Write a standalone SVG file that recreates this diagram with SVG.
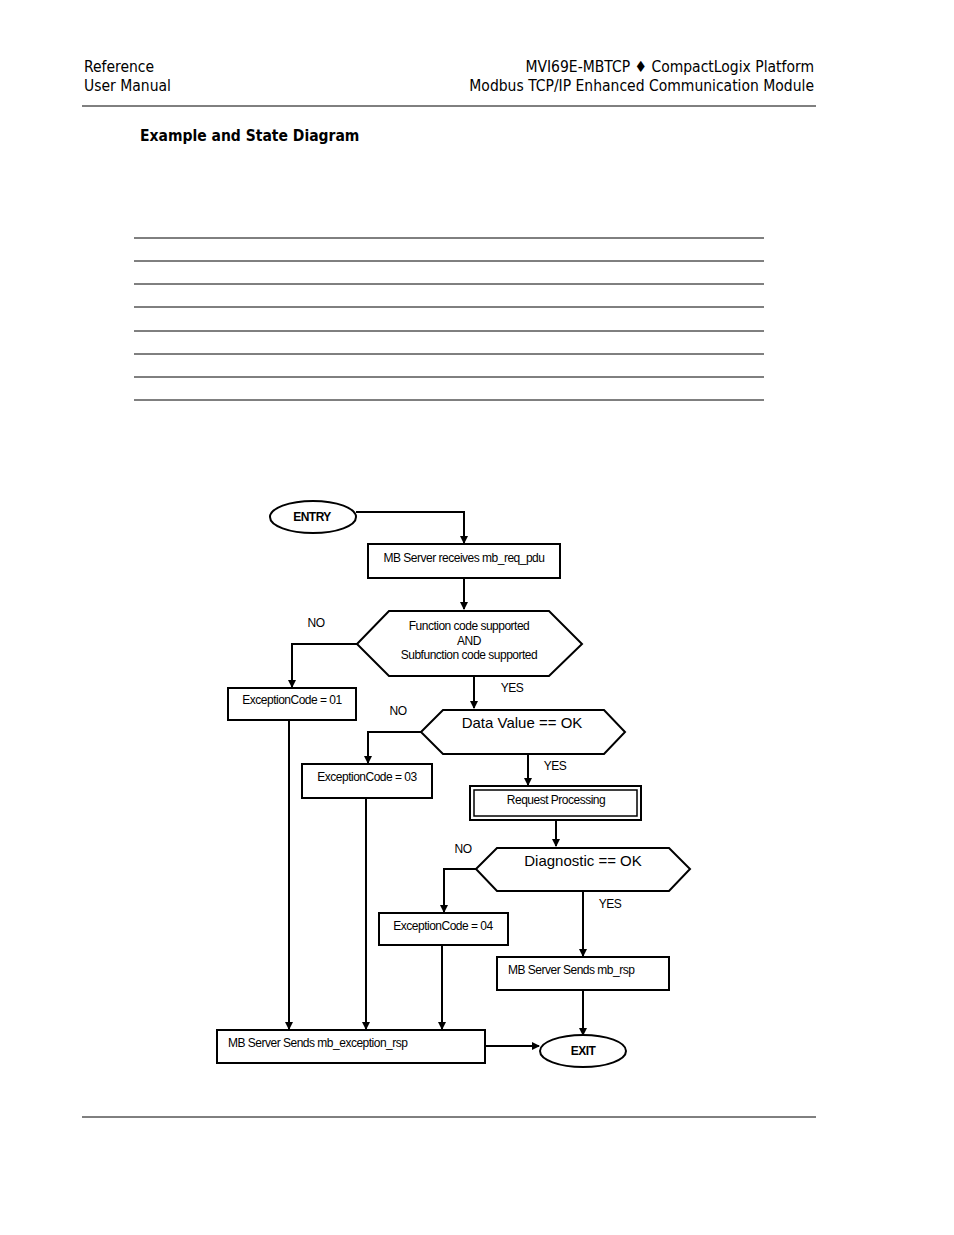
<svg xmlns="http://www.w3.org/2000/svg" width="954" height="1235" viewBox="0 0 954 1235">
<style>
.h{font-family:"Liberation Sans Narrow","DejaVu Sans Condensed","Liberation Sans",sans-serif;font-size:15.5px;fill:#000}
.t{font-family:"Liberation Sans",Arial,sans-serif;font-size:12px;fill:#000;letter-spacing:-0.5px}
.b{font-family:"Liberation Sans",Arial,sans-serif;font-size:15px;fill:#000}
.s{fill:#fff;stroke:#000;stroke-width:2}
.c{fill:none;stroke:#000;stroke-width:2}
.r{stroke:#000;stroke-width:1}
</style>
<defs><marker id="a" markerWidth="8" markerHeight="8" refX="7" refY="4" orient="auto" markerUnits="userSpaceOnUse" viewBox="0 0 8 8"><path d="M0,0 L8,4 L0,8 z" fill="#000"/></marker></defs>
<rect width="954" height="1235" fill="#fff"/>
<text class="h" x="84" y="72">Reference</text>
<text class="h" x="84" y="91">User Manual</text>
<text class="h" x="814" y="72" text-anchor="end">MVI69E-MBTCP ♦ CompactLogix Platform</text>
<text class="h" x="814" y="91" text-anchor="end">Modbus TCP/IP Enhanced Communication Module</text>
<line class="r" x1="82" y1="106" x2="816" y2="106"/>
<text class="h" x="140" y="141" font-weight="bold">Example and State Diagram</text>
<g class="r"><line x1="134" y1="238" x2="764" y2="238"/><line x1="134" y1="261" x2="764" y2="261"/><line x1="134" y1="284" x2="764" y2="284"/><line x1="134" y1="307" x2="764" y2="307"/><line x1="134" y1="331" x2="764" y2="331"/><line x1="134" y1="354" x2="764" y2="354"/><line x1="134" y1="377" x2="764" y2="377"/><line x1="134" y1="400" x2="764" y2="400"/></g>
<line class="r" x1="82" y1="1117" x2="816" y2="1117"/>
<g id="connectors">
<path class="c" d="M356,512 H464 V543" marker-end="url(#a)"/>
<path class="c" d="M464,578 V609" marker-end="url(#a)"/>
<path class="c" d="M357,644 H292 V687" marker-end="url(#a)"/>
<path class="c" d="M474,676 V708" marker-end="url(#a)"/>
<path class="c" d="M421,732 H368 V763" marker-end="url(#a)"/>
<path class="c" d="M528,754 V785" marker-end="url(#a)"/>
<path class="c" d="M556,820 V846" marker-end="url(#a)"/>
<path class="c" d="M476,869 H444 V912" marker-end="url(#a)"/>
<path class="c" d="M583,891 V956" marker-end="url(#a)"/>
<path class="c" d="M583,990 V1035" marker-end="url(#a)"/>
<path class="c" d="M289,720 V1029" marker-end="url(#a)"/>
<path class="c" d="M366,798 V1029" marker-end="url(#a)"/>
<path class="c" d="M442,945 V1029" marker-end="url(#a)"/>
<path class="c" d="M485,1046 H539" marker-end="url(#a)"/>
<text class="t" x="316" y="627" text-anchor="middle">NO</text>
<text class="t" x="512" y="692" text-anchor="middle">YES</text>
<text class="t" x="398" y="715" text-anchor="middle">NO</text>
<text class="t" x="555" y="770" text-anchor="middle">YES</text>
<text class="t" x="463" y="853" text-anchor="middle">NO</text>
<text class="t" x="610" y="908" text-anchor="middle">YES</text>
</g>
<g id="entry"><ellipse class="s" cx="313" cy="517" rx="43" ry="16"/><text class="t" x="312" y="521" text-anchor="middle" font-weight="bold">ENTRY</text></g>
<g id="receive"><rect class="s" x="368" y="544" width="192" height="34"/><text class="t" x="464" y="562" text-anchor="middle">MB Server receives mb_req_pdu</text></g>
<g id="fc"><polygon class="s" points="357,644 389,611 549,611 582,644 549,676 389,676"/><text class="t" x="469" y="630" text-anchor="middle">Function code supported</text><text class="t" x="469" y="645" text-anchor="middle">AND</text><text class="t" x="469" y="659" text-anchor="middle">Subfunction code  supported</text></g>
<g id="ex01"><rect class="s" x="228" y="688" width="128" height="32"/><text class="t" x="292" y="704" text-anchor="middle">ExceptionCode = 01</text></g>
<g id="dv"><polygon class="s" points="421,732 443,710 604,710 625,732 604,754 443,754"/><text class="b" x="522" y="728" text-anchor="middle">Data Value == OK</text></g>
<g id="ex03"><rect class="s" x="302" y="764" width="130" height="34"/><text class="t" x="367" y="781" text-anchor="middle">ExceptionCode = 03</text></g>
<g id="rp"><rect class="s" x="470" y="786" width="171" height="34"/><rect x="474" y="790" width="163" height="26" fill="none" stroke="#000" stroke-width="1.5"/><text class="t" x="556" y="804" text-anchor="middle">Request Processing</text></g>
<g id="diag"><polygon class="s" points="476,869 497,848 669,848 690,869 669,891 497,891"/><text class="b" x="583" y="866" text-anchor="middle">Diagnostic == OK</text></g>
<g id="ex04"><rect class="s" x="379" y="913" width="129" height="32"/><text class="t" x="443" y="930" text-anchor="middle">ExceptionCode = 04</text></g>
<g id="rsp"><rect class="s" x="497" y="957" width="172" height="33"/><text class="t" x="508" y="974">MB Server Sends mb_rsp</text></g>
<g id="exrsp"><rect class="s" x="217" y="1030" width="268" height="33"/><text class="t" x="228" y="1047">MB Server Sends mb_exception_rsp</text></g>
<g id="exit"><ellipse class="s" cx="583" cy="1051" rx="43" ry="16"/><text class="t" x="583" y="1055" text-anchor="middle" font-weight="bold">EXIT</text></g>
</svg>
